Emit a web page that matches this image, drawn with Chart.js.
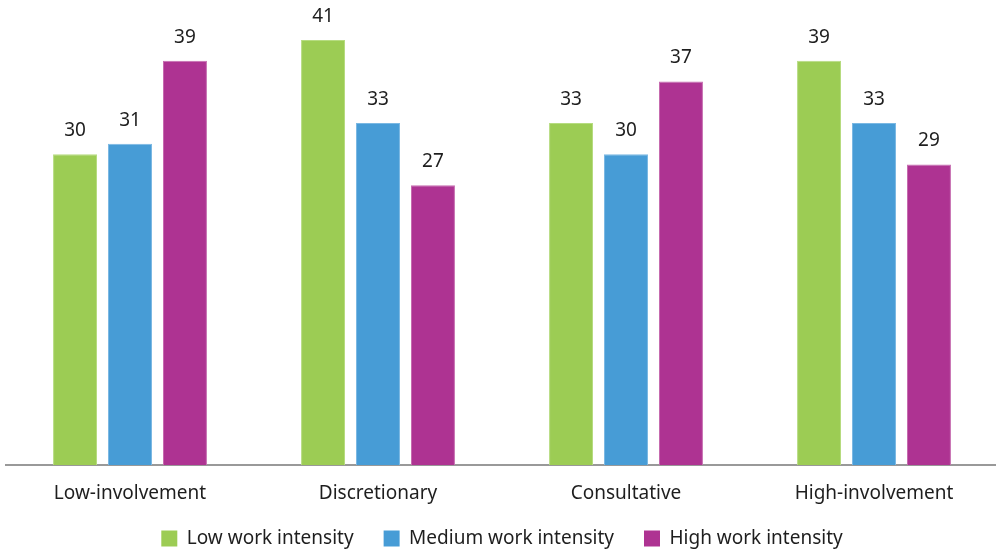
<!DOCTYPE html>
<html>
<head>
<meta charset="utf-8">
<script src="https://cdn.jsdelivr.net/npm/chart.js@4/dist/chart.umd.min.js"></script>
<style>
  html, body { margin: 0; padding: 0; background: #fff; overflow: hidden; }
  #wrap { width: 998px; height: 550px; position: relative; }
</style>
</head>
<body>
<div id="wrap"><canvas id="c"></canvas></div>
<script>
const categories = ["Low-involvement", "Discretionary", "Consultative", "High-involvement"];
const seriesNames = ["Low work intensity", "Medium work intensity", "High work intensity"];
const lowValues = [30, 41, 33, 39];
const mediumValues = [31, 33, 30, 33];
const highValues = [39, 27, 37, 29];
const colors = ["#9ccc54", "#479cd6", "#ae3392"];
const borderColors = ["#b6dc80", "#7ab8e3", "#c66db0"];

const FONT = "'Noto Sans', 'Open Sans', sans-serif";
const TEXT = "#1e1e1e";
const FS = 19;

const valueLabels = {
  id: "valueLabels",
  afterDatasetsDraw(chart) {
    const ctx = chart.ctx;
    ctx.save();
    ctx.font = FS + "px " + FONT;
    ctx.fillStyle = TEXT;
    ctx.textAlign = "center";
    ctx.textBaseline = "bottom";
    chart.data.datasets.forEach((ds, i) => {
      const meta = chart.getDatasetMeta(i);
      meta.data.forEach((bar, j) => {
        ctx.fillText(String(ds.data[j]), bar.x, bar.y - 14);
      });
    });
    ctx.restore();
  }
};

const unclipAxis = {
  id: "unclipAxis",
  afterLayout(chart) {
    chart.scales.x.bottom += 40;
  }
};

new Chart(document.getElementById("c"), {
  type: "bar",
  data: {
    labels: categories,
    datasets: [
      { label: seriesNames[0], data: lowValues, backgroundColor: colors[0], borderColor: borderColors[0], borderWidth: 1 },
      { label: seriesNames[1], data: mediumValues, backgroundColor: colors[1], borderColor: borderColors[1], borderWidth: 1 },
      { label: seriesNames[2], data: highValues, backgroundColor: colors[2], borderColor: borderColors[2], borderWidth: 1 }
    ]
  },
  options: {
    responsive: true,
    maintainAspectRatio: false,
    animation: false,
    layout: { padding: { top: 9, left: 6, right: 0, bottom: -8 } },
    datasets: { bar: { barPercentage: 0.8, categoryPercentage: 0.665 } },
    scales: {
      x: {
        grid: { display: false, drawTicks: false },
        border: { display: true, color: "#999999", width: 2 },
        ticks: { color: TEXT, font: { family: FONT, size: FS }, padding: 17 },
        afterFit(scale) { scale.height -= 23; }
      },
      y: {
        display: false,
        min: 0,
        max: 44,
        grid: { display: false }
      }
    },
    plugins: {
      legend: {
        position: "bottom",
        labels: {
          color: TEXT,
          font: { family: FONT, size: FS },
          boxWidth: 16,
          boxHeight: 16,
          padding: 30,
          generateLabels(chart) {
            return chart.data.datasets.map((ds, i) => ({
              text: ds.label,
              fillStyle: ds.backgroundColor,
              strokeStyle: ds.backgroundColor,
              lineWidth: 0,
              fontColor: TEXT,
              hidden: false,
              datasetIndex: i
            }));
          }
        }
      },
      tooltip: { enabled: false }
    }
  },
  plugins: [valueLabels, unclipAxis]
});
</script>
</body>
</html>
